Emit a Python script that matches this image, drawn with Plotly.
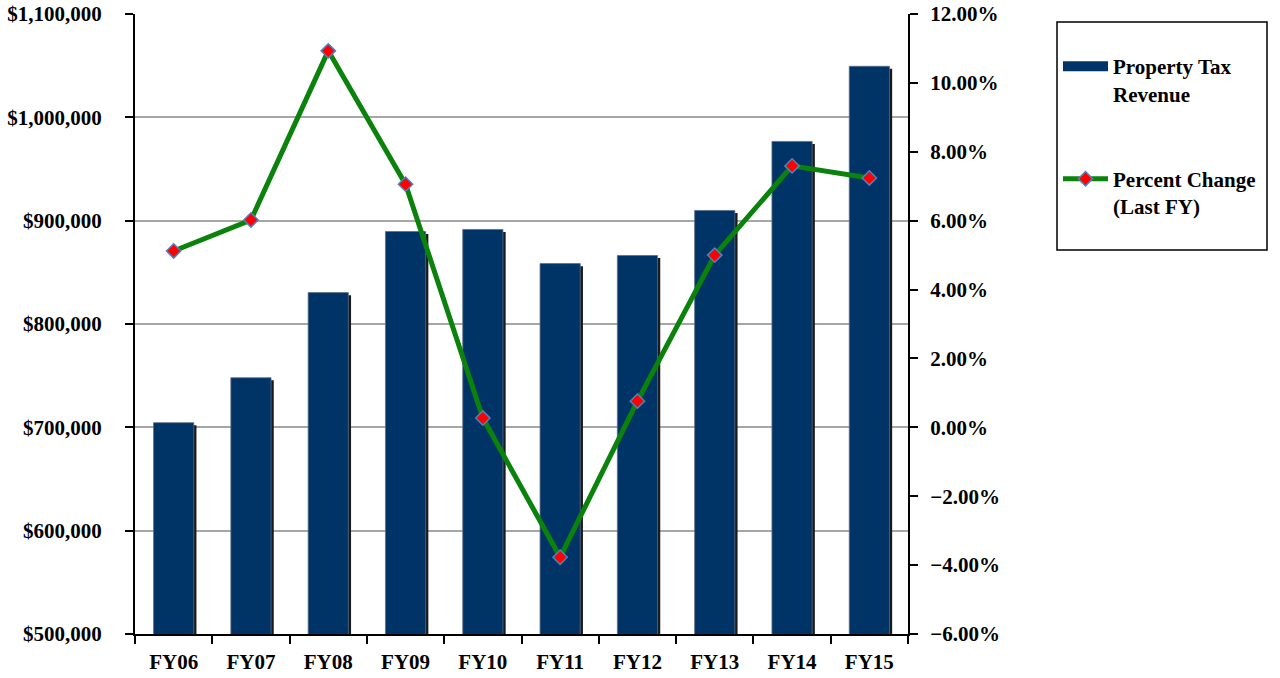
import plotly.graph_objects as go

categories = ["FY06", "FY07", "FY08", "FY09", "FY10", "FY11", "FY12", "FY13", "FY14", "FY15"]
revenue = [704500, 748000, 830400, 889500, 891500, 858500, 866300, 909900, 976700, 1049400]
pct_change = [5.12, 6.02, 10.93, 7.06, 0.27, -3.77, 0.76, 5.00, 7.59, 7.24]

FONT = "Liberation Serif"
W, H = 1280, 678
L, R, T, B = 135, 372, 14, 44
pw, ph = W - L - R, H - T - B

def px_x(x):
    return (x - L) / pw

def px_y(y):
    return 1 - (y - T) / ph

NAVY = "#003366"
fig = go.Figure()

# shadow of bars
fig.add_trace(go.Bar(
    x=categories, y=[v - 2500 for v in revenue],
    width=0.52, offset=-0.26 + 0.035,
    marker=dict(color="#1a1a1a", line=dict(width=0)),
    showlegend=False, hoverinfo="skip", yaxis="y",
))
fig.add_trace(go.Bar(
    x=categories, y=revenue, name="Property Tax<br>Revenue",
    width=0.52, offset=-0.26,
    marker=dict(color=NAVY, line=dict(color="#5a6e88", width=0.8)),
    showlegend=False, yaxis="y",
))
# legend entry for the bars (wide rectangle look)
fig.add_trace(go.Scatter(
    x=[None], y=[None], name="Property Tax<br>Revenue", mode="lines",
    line=dict(color=NAVY, width=13), legendgroup="a", yaxis="y",
))
fig.add_trace(go.Scatter(
    x=categories, y=pct_change, name="Percent Change<br>(Last FY)",
    mode="lines+markers",
    line=dict(color="#0b820b", width=5),
    marker=dict(symbol="diamond", size=11, color="#ff0000",
                line=dict(color="#4f81bd", width=1.5)),
    legendgroup="b", yaxis="y2",
))

tickfont = dict(family=FONT, size=21, color="black", weight="bold")

fig.update_layout(
    width=W, height=H,
    margin=dict(l=L, r=R, t=T, b=B, autoexpand=False),
    paper_bgcolor="white", plot_bgcolor="white",
    barmode="overlay",
    font=dict(family=FONT, size=21, color="black", weight="bold"),
    xaxis=dict(
        type="category", showline=True, linecolor="black", linewidth=2,
        ticks="outside", ticklen=8, tickcolor="black", tickwidth=1.5,
        tickson="boundaries", showgrid=False, tickfont=tickfont,
        range=[-0.5, 9.5], automargin=False, ticklabelstandoff=8,
    ),
    yaxis=dict(
        range=[500000, 1100000], dtick=100000, tickprefix="$", tickformat=",",
        showline=True, linecolor="black", linewidth=2,
        ticks="outside", ticklen=8, tickcolor="black", tickwidth=1.5,
        showgrid=True, gridcolor="#a6a6a6", gridwidth=1.5,
        tickfont=tickfont, ticklabelstandoff=19, zeroline=False, automargin=False,
    ),
    yaxis2=dict(
        range=[-6, 12], dtick=2, tickformat=".2f", ticksuffix="%",
        overlaying="y", side="right",
        showline=True, linecolor="black", linewidth=2,
        ticks="outside", ticklen=8, tickcolor="black", tickwidth=1.5,
        showgrid=False, zeroline=False, tickfont=tickfont,
        ticklabelstandoff=8, automargin=False,
    ),
    legend=dict(
        x=px_x(1058), y=px_y(46), xanchor="left", yanchor="top",
        bgcolor="rgba(0,0,0,0)", borderwidth=0,
        font=dict(family=FONT, size=21, color="black", weight="bold"),
        tracegroupgap=55, valign="top", itemwidth=45,
    ),
    shapes=[dict(
        type="rect", xref="paper", yref="paper",
        x0=px_x(1057), x1=px_x(1267), y0=px_y(250), y1=px_y(22),
        line=dict(color="black", width=1.5), fillcolor="rgba(0,0,0,0)",
        layer="below",
    )],
)

fig.write_html("out.html", config={"displayModeBar": False},
               post_script="document.body.style.margin='0';")
